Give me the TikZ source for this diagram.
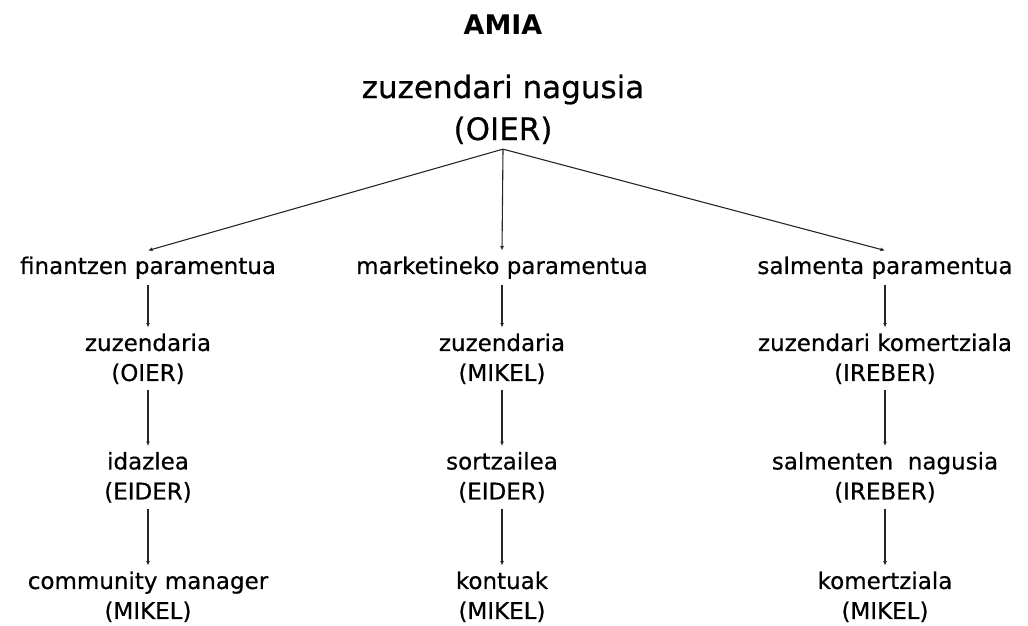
\documentclass[tikz,border=0pt]{standalone}
\usepackage{fontspec}
\setmainfont{DejaVu Sans}
\newfontfamily\medfont{DejaVu Sans}[FakeBold=0.5]
\usetikzlibrary{arrows.meta}

\begin{document}
\begin{tikzpicture}[x=1pt,y=-1pt,
  box/.style={anchor=north,inner sep=0pt,outer sep=6pt,align=center,font=\medfont\fontsize{23}{30}\selectfont},
  link/.style={-{Latex[length=4.5pt,width=4pt]},line width=1.1pt,black!85}]
\useasboundingbox (0,0) rectangle (1028,626);
\node[anchor=base,font=\bfseries\fontsize{27}{32}\selectfont] (amia) at (503,35) {AMIA};
\node[box,outer sep=5pt,font=\medfont\fontsize{31}{42}\selectfont] (top) at (503,69.5) {zuzendari nagusia\\(OIER)};

\node[box] (f1) at (148,250.5) {finantzen paramentua};
\node[box] (f2) at (148,327.5) {zuzendaria\\(OIER)};
\node[box] (f3) at (148,446) {idazlea\\(EIDER)};
\node[box] (f4) at (148,565.5) {community manager\\(MIKEL)};

\node[box] (m1) at (502,250.5) {marketineko paramentua};
\node[box] (m2) at (502,327.5) {zuzendaria\\(MIKEL)};
\node[box] (m3) at (502,446) {sortzailea\\(EIDER)};
\node[box] (m4) at (502,565.5) {kontuak\\(MIKEL)};

\node[box] (s1) at (885,250.5) {salmenta paramentua};
\node[box] (s2) at (885,327.5) {zuzendari komertziala\\(IREBER)};
\node[box] (s3) at (885,446) {salmenten\ \ nagusia\\(IREBER)};
\node[box] (s4) at (885,565.5) {komertziala\\(MIKEL)};

\foreach \c in {f,m,s}{
  \draw[link] (top.south) -- (\c1.north);
  \foreach \i/\j in {1/2,2/3,3/4}
    \draw[link] (\c\i.south) -- (\c\j.north);
}
\end{tikzpicture}
\end{document}
